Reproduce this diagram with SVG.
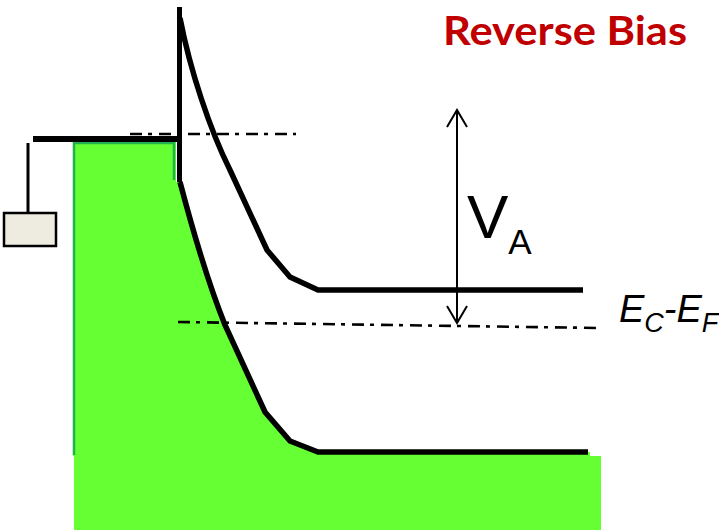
<svg xmlns="http://www.w3.org/2000/svg" width="719" height="530" viewBox="0 0 719 530">
<style>
.band{fill:none;stroke:#000;stroke-width:5.5;stroke-linejoin:miter}
.fermi{fill:none;stroke:#000;stroke-width:2.6;stroke-dasharray:12 6 4 7}
.arrow{fill:none;stroke:#000;stroke-width:2}
.lbl{font-family:"Liberation Sans",Arial,sans-serif;fill:#000}
.title{font-family:Lato,"Liberation Sans",sans-serif;font-weight:bold;fill:#c00000;font-size:41px}
</style>
<rect width="719" height="530" fill="#fff"/>
<g id="semiconductor-fill">
<path d="M73,142 H176 V182 H180 C190,220 205,275 225,325 L265,412 L290,441 L318,452 H590 V456 H601 V530 H74 V456 H73 Z" fill="#66ff33"/>
<path d="M74,455 V143 H174 V180" fill="none" stroke="#22b14c" stroke-width="2.5"/>
</g>
<g id="contact">
<rect x="4" y="213" width="52" height="33" fill="#eeebe0" stroke="#000" stroke-width="2.5"/>
<line x1="28" y1="143" x2="28" y2="213" stroke="#000" stroke-width="3"/>
</g>
<g id="metal">
<line x1="33" y1="139" x2="180" y2="139" stroke="#000" stroke-width="6"/>
<line x1="179.5" y1="7" x2="179.5" y2="182" stroke="#000" stroke-width="5"/>
</g>
<g id="bands">
<path class="band" d="M180,18 C190,70 210,130 230,170 L267,250 L290,277 L318,290 H583"/>
<path class="band" d="M180,182 C190,220 205,275 225,325 L265,412 L290,441 L318,452 H588"/>
</g>
<g id="fermi-levels">
<line class="fermi" x1="130" y1="134" x2="296" y2="134"/>
<line class="fermi" x1="178" y1="322" x2="600" y2="328"/>
</g>
<g id="connectors">
<line class="arrow" x1="457" y1="110" x2="457" y2="323"/>
<path class="arrow" d="M447,127 L457,110 L467,127"/>
<path class="arrow" d="M447,306 L457,323 L467,306"/>
</g>
<g id="labels">
<text class="title" x="443" y="45" textLength="244" lengthAdjust="spacingAndGlyphs">Reverse Bias</text>
<text class="lbl" x="467" y="238" font-size="62">V<tspan font-size="35" dy="16">A</tspan></text>
<text class="lbl" x="619" y="322" font-size="38" font-style="italic">E<tspan font-size="27" dy="10">C</tspan><tspan dy="-10">-E</tspan><tspan font-size="27" dy="10">F</tspan></text>
</g>
</svg>
